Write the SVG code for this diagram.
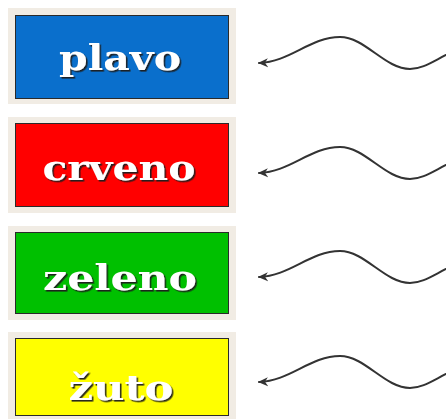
<svg xmlns="http://www.w3.org/2000/svg" width="446" height="419" viewBox="0 0 446 419">
<style>
.frame{fill:#f1ece4}
.box{stroke:#2a2a2a;stroke-width:1}
.lbl{font-family:"DejaVu Serif","Liberation Serif",serif;font-weight:bold;font-size:36px;fill:#ffffff;text-anchor:middle;filter:url(#sh)}
.wave{fill:none;stroke:#333;stroke-width:2;stroke-linecap:round;marker-end:url(#ah)}
</style>
<defs>
<filter id="sh" x="-10%" y="-20%" width="130%" height="150%">
<feDropShadow dx="1.6" dy="1.6" stdDeviation="0.7" flood-color="#1a1a1a" flood-opacity="0.95"/>
</filter>
<marker id="ah" markerWidth="12" markerHeight="12" refX="9" refY="5" orient="auto" markerUnits="userSpaceOnUse">
<path d="M0,0.5 L10,5 L0,9.5 L3,5 Z" fill="#333"/>
</marker>
</defs>
<rect width="446" height="419" fill="#ffffff"/>
<g id="plavo">
<rect class="frame" x="8" y="8" width="228" height="96"/>
<rect class="box" x="15.5" y="15.5" width="213" height="83" fill="#0a6fcc"/>
<text class="lbl" x="120" y="70" textLength="122" lengthAdjust="spacingAndGlyphs">plavo</text>
</g>
<g id="crveno">
<rect class="frame" x="8" y="117" width="228" height="96"/>
<rect class="box" x="15.5" y="123.5" width="213" height="83" fill="#ff0000"/>
<text class="lbl" x="119" y="180" textLength="153" lengthAdjust="spacingAndGlyphs">crveno</text>
</g>
<g id="zeleno">
<rect class="frame" x="8" y="226" width="228" height="94"/>
<rect class="box" x="15.5" y="232.5" width="213" height="81" fill="#00c000"/>
<text class="lbl" x="120" y="290" textLength="154" lengthAdjust="spacingAndGlyphs">zeleno</text>
</g>
<g id="zuto">
<rect class="frame" x="8" y="332" width="228" height="87"/>
<rect class="box" x="15.5" y="338.5" width="213" height="77" fill="#ffff00"/>
<text class="lbl" x="121" y="400" textLength="105" lengthAdjust="spacingAndGlyphs">žuto</text>
</g>
<g id="connectors">
<path class="wave" d="M446,55 C432,62 422,69 410,69 C385,69 365,37 340,37 C310,37 290,62 259,63"/>
<path class="wave" transform="translate(0,110)" d="M446,55 C432,62 422,69 410,69 C385,69 365,37 340,37 C310,37 290,62 259,63"/>
<path class="wave" transform="translate(0,214)" d="M446,55 C432,62 422,69 410,69 C385,69 365,37 340,37 C310,37 290,62 259,63"/>
<path class="wave" transform="translate(0,319)" d="M446,55 C432,62 422,69 410,69 C385,69 365,37 340,37 C310,37 290,62 259,63"/>
</g>
</svg>
